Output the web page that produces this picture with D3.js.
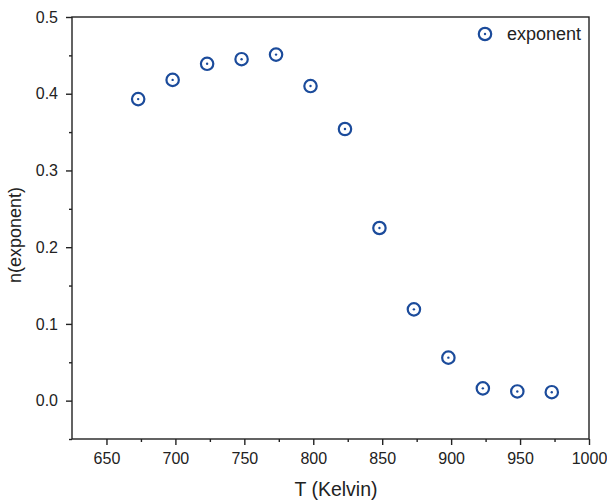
<!DOCTYPE html>
<html>
<head>
<meta charset="utf-8">
<script src="https://cdn.jsdelivr.net/npm/d3@7"></script>
<style>
  body { margin: 0; background: #fff; }
  text { font-family: "Liberation Sans", Arial, sans-serif; fill: #222; }
</style>
</head>
<body>
<div id="graf"></div>
<script>
// Data
const temps = [673, 698, 723, 748, 773, 798, 823, 848, 873, 898, 923, 948, 973]
const exponent = [0.393, 0.418, 0.439, 0.445, 0.451, 0.410, 0.354, 0.225, 0.119, 0.056, 0.016, 0.012, 0.011]
const xTicks = [650, 700, 750, 800, 850, 900, 950, 1000]
const yTicks = [0.0, 0.1, 0.2, 0.3, 0.4, 0.5]

const anchoTotal = 607
const altoTotal = 502
const margins = { left: 72, top: 17, right: 18, bottom: 63 }
const ancho = anchoTotal - margins.left - margins.right
const alto = altoTotal - margins.top - margins.bottom
const azul = "#1b4b9b"

const svg = d3.select("#graf")
  .append("svg")
  .attr("width", anchoTotal)
  .attr("height", altoTotal)

const g = svg.append("g")
  .attr("transform", `translate(${margins.left}, ${margins.top})`)

// Escaladores
const x = d3.scaleLinear().domain([625, 1000]).range([0, ancho])
const y = d3.scaleLinear().domain([-0.05, 0.5]).range([alto, 0])

// frame
g.append("rect")
  .attr("width", ancho)
  .attr("height", alto)
  .attr("fill", "none")
  .attr("stroke", "#222")
  .attr("stroke-width", 1.4)

// minor ticks
const xMinor = d3.range(675, 1000, 50)
const yMinor = d3.range(-0.05, 0.5, 0.1)

g.append("g")
  .attr("transform", `translate(0, ${alto})`)
  .call(d3.axisBottom(x).tickValues(xMinor).tickSize(3).tickFormat(""))
  .call(a => a.select(".domain").remove())

g.append("g")
  .call(d3.axisLeft(y).tickValues(yMinor).tickSize(3).tickFormat(""))
  .call(a => a.select(".domain").remove())

// main axes
const ejeX = g.append("g")
  .attr("transform", `translate(0, ${alto})`)
  .call(d3.axisBottom(x).tickValues(xTicks).tickSize(6).tickPadding(8).tickFormat(d3.format("d")))
ejeX.select(".domain").remove()

const ejeY = g.append("g")
  .call(d3.axisLeft(y).tickValues(yTicks).tickSize(6).tickPadding(8).tickFormat(d3.format(".1f")))
ejeY.select(".domain").remove()

g.selectAll(".tick line").attr("stroke", "#222").attr("stroke-width", 1.4)
g.selectAll(".tick text")
  .attr("fill", "#222")
  .style("font-size", "16px")
  .style("font-family", "Liberation Sans, Arial, sans-serif")

// labels
svg.append("text")
  .attr("x", 336)
  .attr("y", 496)
  .attr("text-anchor", "middle")
  .attr("font-size", 19.5)
  .text("T (Kelvin)")

svg.append("text")
  .attr("transform", "translate(21, 235) rotate(-90)")
  .attr("text-anchor", "middle")
  .attr("font-size", 18)
  .text("n(exponent)")

// points
const marca = (sel) => {
  sel.append("circle").attr("r", 6.2).attr("fill", "none").attr("stroke", azul).attr("stroke-width", 2.2)
  sel.append("circle").attr("r", 1.2).attr("fill", azul)
}

g.selectAll(".pt")
  .data(temps.map((t, i) => ({ t, n: exponent[i] })))
  .join("g")
  .attr("class", "pt")
  .attr("transform", d => `translate(${x(d.t)}, ${y(d.n)})`)
  .call(marca)

// legend
const ley = g.append("g").attr("transform", `translate(${485 - margins.left}, ${34 - margins.top})`)
ley.append("g").call(marca)
ley.append("text")
  .attr("x", 22)
  .attr("y", 5.5)
  .attr("font-size", 18)
  .text("exponent")
</script>
</body>
</html>
